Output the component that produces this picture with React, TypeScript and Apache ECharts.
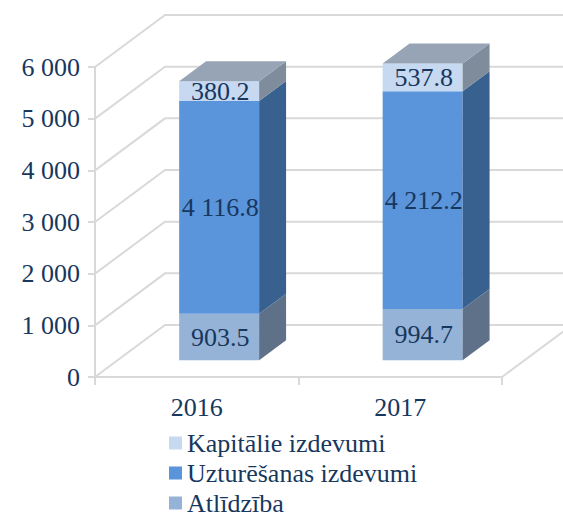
import React, { useEffect, useRef } from "react";
import * as echarts from "echarts";

const categories = ["2016", "2017"];
const atlidziba = [903.5, 994.7];
const uzturesanas = [4116.8, 4212.2];
const kapitalie = [380.2, 537.8];
const yTicks = [0, 1000, 2000, 3000, 4000, 5000, 6000];

const seriesNames = ["Atlīdzība", "Uzturēšanas izdevumi", "Kapitālie izdevumi"];
const legendOrder = ["Kapitālie izdevumi", "Uzturēšanas izdevumi", "Atlīdzība"];

const FONT = "'Liberation Serif', 'Times New Roman', serif";
const TEXT = "#17375E";
const WALL = "#D9D9D9";
const DX = 70;
const DY = 52;
const F0 = 0.32;
const F1 = 0.705;
const BAR_FRAC = 0.393;

const fmt = (v: number, dec: number) => {
  const s = v.toFixed(dec);
  const [i, d] = s.split(".");
  const ii = i.replace(/\B(?=(\d{3})+(?!\d))/g, " ");
  return d ? ii + "." + d : ii;
};

const palettes = [
  { front: "#95B3D7", side: "#5F7189", top: "#8FA0B5" },
  { front: "#5A94DB", side: "#38618F", top: "#8FA0B5" },
  { front: "#C6D9F1", side: "#7F8C9B", top: "#97A4B5" },
];

export default function App() {
  const ref = useRef<HTMLDivElement>(null);
  useEffect(() => {
    if (!ref.current) return;
    const chart = echarts.init(ref.current, null, { renderer: "svg" });
    const stacks = [atlidziba, uzturesanas, kapitalie];
    const bases = categories.map(() => 0);
    const segSeries = stacks.map((arr, si) => {
      const data = arr.map((v, i) => {
        const b = bases[i];
        bases[i] += v;
        return [i, b, b + v, v];
      });
      const pal = palettes[si];
      const isTop = si === stacks.length - 1;
      return {
        name: seriesNames[si],
        type: "custom",
        itemStyle: { color: pal.front },
        data,
        z: 3,
        renderItem: (params: any, api: any) => {
          const i = api.value(0);
          const b = api.value(1);
          const t = api.value(2);
          const v = api.value(3);
          const cw = api.size([1, 0])[0];
          const bw = cw * BAR_FRAC;
          const pb = api.coord([i, b]);
          const pt = api.coord([i, t]);
          const cx = pb[0];
          const fx = DX * F0, fy = DY * F0;
          const sdx = DX * (F1 - F0), sdy = DY * (F1 - F0);
          const l = cx + fx - bw / 2;
          const r = cx + fx + bw / 2;
          const ybf = pb[1] - fy;
          const ytf = pt[1] - fy;
          const children: any[] = [
            {
              type: "rect",
              shape: { x: l, y: ytf, width: bw, height: ybf - ytf },
              style: { fill: pal.front },
            },
            {
              type: "polygon",
              shape: {
                points: [
                  [r, ybf],
                  [r, ytf],
                  [r + sdx, ytf - sdy],
                  [r + sdx, ybf - sdy],
                ],
              },
              style: { fill: pal.side },
            },
          ];
          if (isTop) {
            children.push({
              type: "polygon",
              shape: {
                points: [
                  [l, ytf],
                  [r, ytf],
                  [r + sdx, ytf - sdy],
                  [l + sdx, ytf - sdy],
                ],
              },
              style: { fill: pal.top },
            });
          }
          children.push({
            type: "text",
            style: {
              text: fmt(v, 1),
              x: cx + fx + 1,
              y: (ybf + ytf) / 2,
              align: "center",
              verticalAlign: "middle",
              fontSize: 26,
              fontFamily: FONT,
              fill: TEXT,
            },
          });
          return { type: "group", children };
        },
      };
    });

    const wallSeries = {
      name: "walls",
      type: "custom",
      silent: true,
      z: 1,
      data: [[0, 0]],
      renderItem: (params: any, api: any) => {
        const cs = params.coordSys;
        const children: any[] = [];
        yTicks.forEach((t) => {
          const y = api.coord([0, t])[1];
          children.push({
            type: "polyline",
            shape: {
              points: [
                [cs.x, y],
                [cs.x + DX, y - DY],
                [cs.x + cs.width + DX, y - DY],
              ],
            },
            style: { stroke: WALL, lineWidth: 2, fill: null },
          });
        });
        const y0 = api.coord([0, 0])[1];
        children.push({
          type: "line",
          shape: { x1: cs.x + cs.width, y1: y0, x2: cs.x + cs.width + DX, y2: y0 - DY },
          style: { stroke: WALL, lineWidth: 2 },
        });
        return { type: "group", children };
      },
    };

    chart.setOption({
      animation: false,
      textStyle: { fontFamily: FONT },
      grid: { left: 95, right: 61, top: 67, bottom: 139 },
      legend: {
        orient: "vertical",
        left: 169,
        top: 430,
        height: 200,
        padding: 0,
        icon: "rect",
        itemWidth: 13,
        itemHeight: 13,
        itemGap: 4,
        data: legendOrder,
        textStyle: { fontSize: 26, lineHeight: 22, fontFamily: FONT, color: TEXT },
      },
      xAxis: {
        type: "category",
        data: categories,
        axisLine: { lineStyle: { color: WALL, width: 2 } },
        axisTick: { show: true, length: 8, lineStyle: { color: WALL, width: 2 } },
        axisLabel: { fontSize: 26, fontFamily: FONT, color: TEXT, margin: 17 },
        splitLine: { show: false },
      },
      yAxis: {
        type: "value",
        min: 0,
        max: 6000,
        interval: 1000,
        axisLine: { show: true, lineStyle: { color: WALL, width: 2 } },
        axisTick: { show: true, length: 7, lineStyle: { color: WALL, width: 2 } },
        axisLabel: {
          fontSize: 26,
          fontFamily: FONT,
          color: TEXT,
          margin: 15,
          formatter: (v: number) => fmt(v, 0),
        },
        splitLine: { show: false },
      },
      series: [wallSeries, ...segSeries],
    });
    return () => chart.dispose();
  }, []);
  return (
    <div
      ref={ref}
      style={{ position: "fixed", left: 0, top: 0, width: 563, height: 516, background: "#fff" }}
    />
  );
}
